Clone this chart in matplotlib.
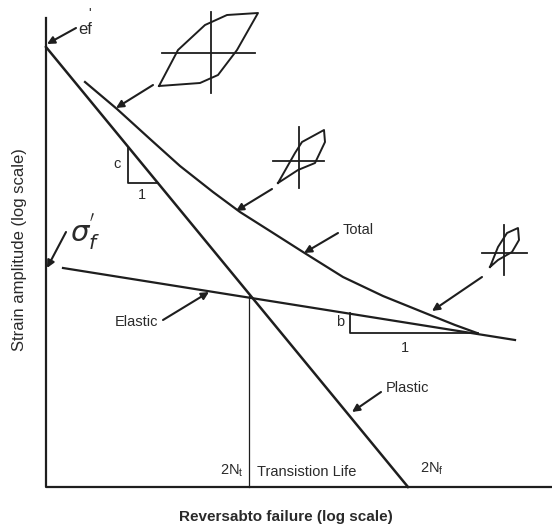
import matplotlib.pyplot as plt
import numpy as np

plt.rcParams['font.family'] = ['Liberation Sans', 'DejaVu Sans']
plt.rcParams['mathtext.fontset'] = 'dejavusans'

# schematic strain-life diagram, coordinates in picture units (y grows downward)
axis_x = [46, 46, 552]
axis_y = [18, 487, 487]

plastic_x = [46, 408]
plastic_y = [47, 487]

elastic_x = [63, 515]
elastic_y = [268, 340]

total_x = [85, 117, 150, 180, 213, 240, 270, 303, 343, 383, 430, 455, 477]
total_y = [82, 109, 139, 166, 192, 212, 231, 252, 277, 296, 315, 325, 333]

transition_x = [249, 249]
transition_y = [296, 487]

tri_c_x = [128, 128, 158]
tri_c_y = [148, 183, 183]
tri_b_x = [350, 350, 478]
tri_b_y = [313, 333, 333]

# hysteresis loops: outline and crosshair
loop1_x = [159, 200, 218, 237, 258, 227, 205, 178, 159]
loop1_y = [86, 83, 75, 50, 13, 15, 25, 50, 86]
cross1 = (211, 53, 162, 255, 12, 93)   # cx, cy, x0, x1, y0, y1

loop2_x = [278, 295, 302, 324, 325, 315, 298, 278]
loop2_y = [183, 153, 142, 130, 142, 163, 170, 183]
cross2 = (299, 161, 273, 324, 127, 188)

loop3_x = [490, 498, 507, 518, 519, 512, 498, 490]
loop3_y = [267, 247, 233, 228, 240, 252, 260, 267]
cross3 = (504, 253, 482, 527, 225, 275)

# arrows: (text end) -> (tip)
arrows = [
    ((76, 28), (47, 44)),
    ((66, 232), (47, 268)),
    ((153, 85), (116, 108)),
    ((272, 189), (236, 211)),
    ((482, 277), (432, 311)),
    ((338, 233), (304, 253)),
    ((163, 320), (209, 292)),
    ((381, 392), (352, 412)),
]

ink = '#1e1e1e'
fig = plt.figure(figsize=(5.52, 5.32), dpi=100)
ax = fig.add_axes([0, 0, 1, 1])
ax.set_xlim(0, 552)
ax.set_ylim(532, 0)
ax.axis('off')

ax.plot(axis_x, axis_y, color=ink, lw=1.6)
ax.plot(plastic_x, plastic_y, color=ink, lw=1.8)
ax.plot(elastic_x, elastic_y, color=ink, lw=1.6)
ax.plot(total_x, total_y, color=ink, lw=1.6, solid_joinstyle='round')
ax.plot(transition_x, transition_y, color=ink, lw=0.9)
ax.plot(tri_c_x, tri_c_y, color=ink, lw=1.3)
ax.plot(tri_b_x, tri_b_y, color=ink, lw=1.3)

for lx, ly, (cx, cy, x0, x1, y0, y1) in [(loop1_x, loop1_y, cross1),
                                          (loop2_x, loop2_y, cross2),
                                          (loop3_x, loop3_y, cross3)]:
    ax.plot(lx, ly, color=ink, lw=1.4, solid_joinstyle='round')
    ax.plot([x0, x1], [cy, cy], color=ink, lw=1.3)
    ax.plot([cx, cx], [y0, y1], color=ink, lw=1.3)

for (sx, sy), (tx, ty) in arrows:
    ax.annotate('', xy=(tx, ty), xytext=(sx, sy),
                arrowprops=dict(arrowstyle='-|>', color=ink, lw=1.5,
                                mutation_scale=11, shrinkA=0, shrinkB=0))

txt = dict(color='#2a2a2a', fontsize=10.5, va='center')
ax.text(78, 30, 'ef', color='#2a2a2a', fontsize=12, va='center', ha='left')
ax.text(88, 14, "'", color='#2a2a2a', fontsize=10, va='center', ha='left')
ax.text(70, 232, r"$\sigma_f^{'}$", color='#2a2a2a', fontsize=21, va='center', ha='left')
ax.text(117, 164, 'c', ha='center', **txt)
ax.text(142, 195, '1', ha='center', **txt)
ax.text(340, 322, 'b', ha='center', **txt)
ax.text(405, 348, '1', ha='center', **txt)
ax.text(343, 230, 'Total', ha='left', **txt)
ax.text(158, 322, 'Elastic', ha='right', **txt)
ax.text(386, 388, 'Plastic', ha='left', **txt)
ax.text(244, 471, r'2N$_\mathregular{t}$', ha='right', **txt)
ax.text(257, 472, 'Transistion Life', ha='left', **txt)
ax.text(420, 469, r'2N$_\mathregular{f}$', ha='left', **txt)

ax.text(286, 517, 'Reversabto failure (log scale)', ha='center', va='center',
        color='#2a2a2a', fontsize=11, fontweight='bold')
ax.text(20, 250, 'Strain amplitude (log scale)', ha='center', va='center',
        rotation=90, color='#2a2a2a', fontsize=12)

fig.savefig('out.png', dpi=100)
